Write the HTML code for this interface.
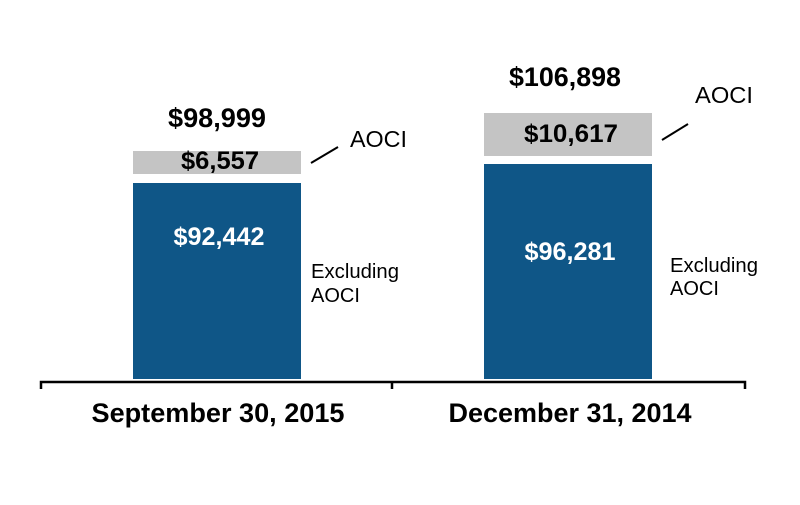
<!DOCTYPE html>
<html><head><style>body{margin:0;background:#fff}</style></head><body>
<svg width="800" height="500" xmlns="http://www.w3.org/2000/svg" font-family="Liberation Sans, Arial, sans-serif">
<rect width="800" height="500" fill="#fff"/>
<rect x="133" y="151" width="168" height="23" fill="#c4c4c4"/>
<rect x="133" y="183" width="168" height="196" fill="#0f5687"/>
<rect x="484" y="113" width="168" height="43" fill="#c4c4c4"/>
<rect x="484" y="164" width="168" height="215" fill="#0f5687"/>
<path d="M41 389 V382 H745 V389 M392 382 V389" stroke="#000" stroke-width="2.5" fill="none"/>
<line x1="311" y1="163" x2="338" y2="147" stroke="#000" stroke-width="2"/>
<line x1="662" y1="140" x2="688" y2="124" stroke="#000" stroke-width="2"/>
<g font-weight="bold" text-anchor="middle" lengthAdjust="spacingAndGlyphs">
<text x="217" y="127" font-size="27" textLength="98" lengthAdjust="spacingAndGlyphs">$98,999</text>
<text x="220" y="169" font-size="25" textLength="78" lengthAdjust="spacingAndGlyphs">$6,557</text>
<text x="219" y="245" font-size="25" fill="#fff" textLength="91" lengthAdjust="spacingAndGlyphs">$92,442</text>
<text x="565" y="86" font-size="27" textLength="112" lengthAdjust="spacingAndGlyphs">$106,898</text>
<text x="571" y="142" font-size="25" textLength="94" lengthAdjust="spacingAndGlyphs">$10,617</text>
<text x="570" y="260" font-size="25" fill="#fff" textLength="91" lengthAdjust="spacingAndGlyphs">$96,281</text>
<text x="218" y="422" font-size="27" textLength="253" lengthAdjust="spacingAndGlyphs">September 30, 2015</text>
<text x="570" y="422" font-size="27" textLength="243" lengthAdjust="spacingAndGlyphs">December 31, 2014</text>
</g>
<g font-size="23">
<text x="350" y="147" textLength="57" lengthAdjust="spacingAndGlyphs">AOCI</text>
<text x="695" y="103" textLength="58" lengthAdjust="spacingAndGlyphs">AOCI</text>
</g>
<g font-size="20">
<text x="311" y="278" textLength="88" lengthAdjust="spacingAndGlyphs">Excluding</text>
<text x="311" y="302">AOCI</text>
<text x="670" y="272" textLength="88" lengthAdjust="spacingAndGlyphs">Excluding</text>
<text x="670" y="295">AOCI</text>
</g>
</svg>
</body></html>
